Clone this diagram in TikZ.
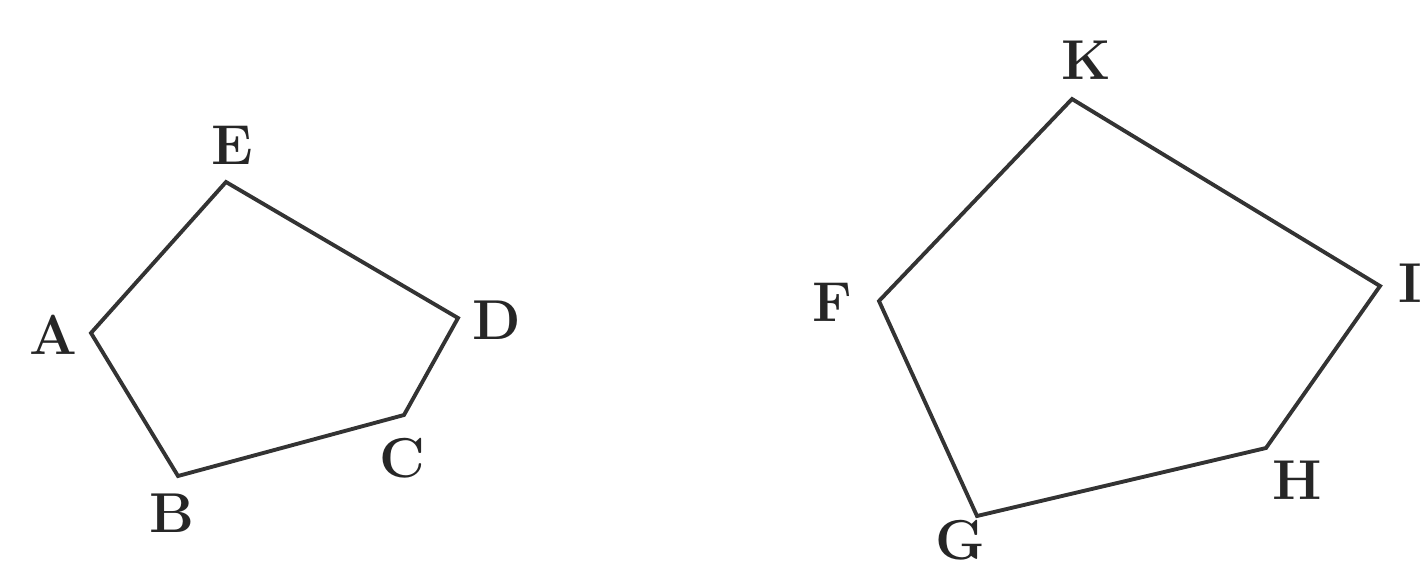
\documentclass[tikz,border=0pt]{standalone}
\usepackage{tikz}
\usetikzlibrary{positioning}

\tikzset{
  vertex/.style={coordinate},
  letter/.style={inner sep=0pt, font=\fontsize{32}{32}\selectfont\bfseries, text=black!85},
  side/.style={line width=2.2pt, draw=black!80, line join=miter}
}

\begin{document}
\begin{tikzpicture}[x=0.02cm,y=-0.02cm]
  \useasboundingbox (0,0) rectangle (1426,568);

  % first pentagon
  \node[vertex] (A) at (91,333)  {};
  \node[vertex] (B) at (178,476) {};
  \node[vertex] (C) at (404,415) {};
  \node[vertex] (D) at (458,318) {};
  \node[vertex] (E) at (226,182) {};

  \node[letter] (lA) at (53,335)  {A};
  \node[letter] (lB) at (172,513) {B};
  \node[letter] (lC) at (402,458) {C};
  \node[letter] (lD) at (497,320) {D};
  \node[letter] (lE) at (232,145) {E};

  \draw[side] (A) -- (B) -- (C) -- (D) -- (E) -- cycle;

  % second pentagon
  \node[vertex] (F) at (879,301)  {};
  \node[vertex] (G) at (977,516)  {};
  \node[vertex] (H) at (1266,448) {};
  \node[vertex] (I) at (1380,286) {};
  \node[vertex] (K) at (1072,99)  {};

  \node[letter] (lF) at (832,302)  {F};
  \node[letter] (lG) at (960,540)  {G};
  \node[letter] (lH) at (1297,480) {H};
  \node[letter] (lI) at (1410,283) {I};
  \node[letter] (lK) at (1086,60)  {K};

  \draw[side] (F) -- (G) -- (H) -- (I) -- (K) -- cycle;
\end{tikzpicture}
\end{document}
